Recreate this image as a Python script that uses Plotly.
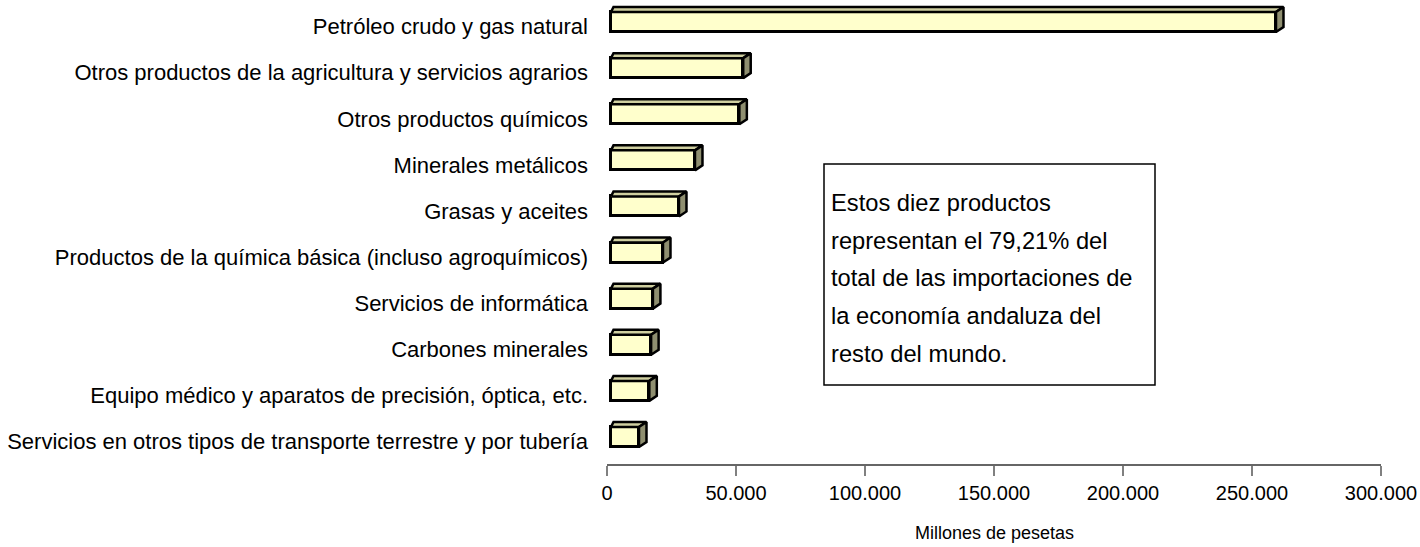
import plotly.graph_objects as go

# ---- data (top to bottom as in the chart) ----
categories = [
    "Petróleo crudo y gas natural",
    "Otros productos de la agricultura y servicios agrarios",
    "Otros productos químicos",
    "Minerales metálicos",
    "Grasas y aceites",
    "Productos de la química básica (incluso agroquímicos)",
    "Servicios de informática",
    "Carbones minerales",
    "Equipo médico y aparatos de precisión, óptica, etc.",
    "Servicios en otros tipos de transporte terrestre y por tubería",
]
values = [259300, 52800, 51300, 34100, 27900, 21700, 17800, 17100, 16400, 12400]
x_tickvals = [0, 50000, 100000, 150000, 200000, 250000, 300000]
x_ticktext = ["0", "50.000", "100.000", "150.000", "200.000", "250.000", "300.000"]
note_lines = [
    "Estos diez productos",
    "representan el 79,21% del",
    "total de las importaciones de",
    "la economía andaluza del",
    "resto del mundo.",
]
axis_title = "Millones de pesetas"

# ---- geometry / style ----
W, H = 1420, 547
ML, MR, MT, MB = 607, 39, 1, 83
plot_w = W - ML - MR
plot_h = H - MT - MB
xmax = 300000
ux = xmax / plot_w            # data units per pixel (x)
n = len(categories)
ymin, ymax = -0.586, 9.456
uy = (ymax - ymin) / plot_h   # data units per pixel (y)

half_h = 10 * uy              # half height of front face
dy = 5 * uy                   # depth (y)
dxl = 2.5 * ux                # depth at left (x)
dxr = 7.5 * ux                # depth at right (x)
x0 = 4 * ux                   # front face start

pos = [n - 1 - i for i in range(n)]  # top item highest

FRONT = "#FFFFCC"
TOP = "#CFCFA0"
SIDE = "#8F8F70"

fig = go.Figure()

fig.add_trace(go.Bar(
    y=pos, x=[v - x0 for v in values], base=x0, orientation="h",
    width=2 * half_h,
    marker=dict(color=FRONT, line=dict(color="black", width=3)),
    hoverinfo="skip", showlegend=False,
))

top_x, top_y, side_x, side_y = [], [], [], []
for c, v in zip(pos, values):
    yt = c + half_h
    yb = c - half_h
    top_x += [x0, x0 + dxl, v + dxr, v, x0, None]
    top_y += [yt, yt + dy, yt + dy, yt, yt, None]
    side_x += [v, v, v + dxr, v + dxr, v, None]
    side_y += [yb, yt, yt + dy, yb + dy, yb, None]

fig.add_trace(go.Scatter(x=top_x, y=top_y, mode="lines", fill="toself",
                         fillcolor=TOP, line=dict(color="black", width=2.5),
                         hoverinfo="skip", showlegend=False))
fig.add_trace(go.Scatter(x=side_x, y=side_y, mode="lines", fill="toself",
                         fillcolor=SIDE, line=dict(color="black", width=2.5),
                         hoverinfo="skip", showlegend=False))

FONT = "Liberation Sans, Arial, sans-serif"

fig.update_layout(
    width=W, height=H,
    margin=dict(l=ML, r=MR, t=MT, b=MB, pad=0),
    paper_bgcolor="white", plot_bgcolor="white",
    bargap=0,
    xaxis=dict(range=[0, xmax], tickvals=x_tickvals, ticktext=x_ticktext,
               showgrid=False, zeroline=False, showline=True,
               linecolor="#666666", linewidth=1.5,
               ticks="outside", ticklen=10, tickcolor="#808080", tickwidth=1.5,
               tickfont=dict(family=FONT, size=20, color="black"),
               automargin=False, fixedrange=True),
    yaxis=dict(range=[ymin, ymax], tickvals=[p - 0.1 for p in pos], ticktext=categories,
               showgrid=False, zeroline=False, showline=False, ticks="",
               ticklabelstandoff=18,
               tickfont=dict(family=FONT, size=22, color="black"),
               automargin=False, fixedrange=True),
    font=dict(family=FONT),
)

# axis title
fig.add_annotation(text=axis_title, xref="paper", yref="paper", x=0.5, y=0,
                   yshift=-69, yanchor="middle", showarrow=False,
                   font=dict(family=FONT, size=18, color="black"))

# text box
def px_x(p):
    return (p - ML) / plot_w

def px_y(p):
    return (H - MB - p) / plot_h

fig.add_shape(type="rect", xref="paper", yref="paper",
              x0=px_x(824), x1=px_x(1155), y0=px_y(385), y1=px_y(164),
              line=dict(color="black", width=1.5), fillcolor="white")
line_centers = [203, 240.7, 278.4, 316, 353.7]
for t, yc in zip(note_lines, line_centers):
    fig.add_annotation(text=t, xref="paper", yref="paper", x=px_x(829), y=px_y(yc),
                       xanchor="left", yanchor="middle", showarrow=False,
                       font=dict(family=FONT, size=23.7, color="black"))

fig.write_html("out.html", post_script="document.body.style.margin='0';",
               config={"displayModeBar": False})
